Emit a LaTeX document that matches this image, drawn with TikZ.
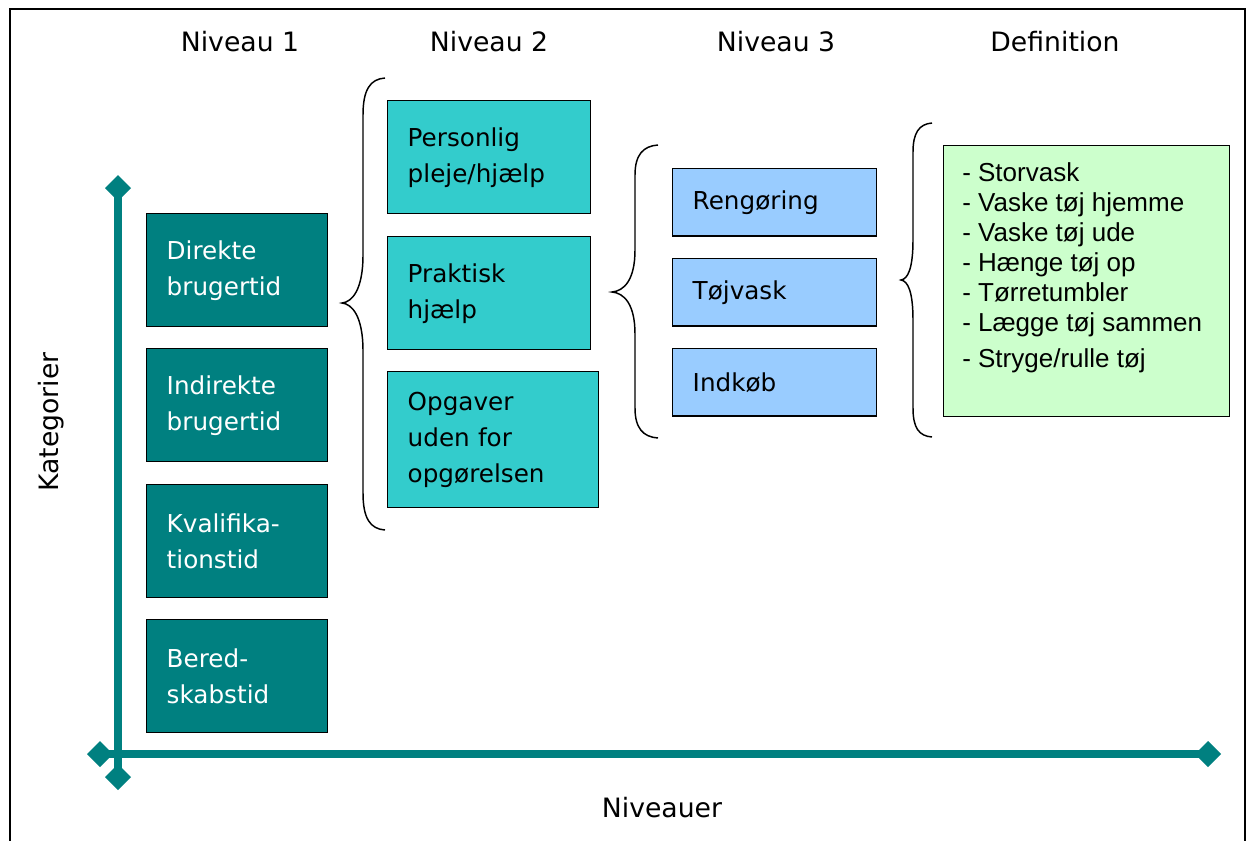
\documentclass[tikz,border=0pt]{standalone}
\usepackage{fontspec}
\setmainfont{DejaVu Sans}
\newfontfamily\deffont{Liberation Sans}
\usetikzlibrary{arrows.meta,positioning}
\definecolor{tealbox}{HTML}{008080}
\definecolor{cyanbox}{HTML}{33CCCC}
\definecolor{bluebox}{HTML}{99CCFF}
\definecolor{greenbox}{HTML}{CCFFCC}

\begin{document}
\begin{tikzpicture}[x=0.75pt,y=-0.75pt,
    box/.style={draw=black,line width=1.1pt,rectangle,anchor=north west,align=left,inner xsep=15pt,
        font=\fontsize{18.5pt}{27pt}\selectfont},
    lvlone/.style={box,fill=tealbox,text=white,text width=105.75pt,minimum height=84.75pt},
    lvltwo/.style={box,fill=cyanbox,text width=122.25pt,minimum height=84.75pt},
    lvlthree/.style={box,fill=bluebox,text width=123pt,minimum height=50.6pt},
    head/.style={anchor=base,font=\fontsize{20pt}{24pt}\selectfont},
    brace/.style={draw=black,line width=1.1pt},
    axis/.style={draw=tealbox,line width=6pt,{Diamond[length=19.5pt,width=19.5pt]}-{Diamond[length=19.5pt,width=19.5pt]}}]

    \useasboundingbox (0,0) rectangle (1246,840);
    \draw[line width=1.9pt] (10,850) -- (10,9) -- (1245,9) -- (1245,850);

    % headings
    \node[head] (niv1) at (240,51) {Niveau 1};
    \node[head] (niv2) at (489,51) {Niveau 2};
    \node[head] (niv3) at (776,51) {Niveau 3};
    \node[head] (defhead) at (1055,51) {Definition};
    \node[head] (niveauer) at (662,817) {Niveauer};
    \node[head,rotate=90] (kategorier) at (58,422) {Kategorier};

    % axes
    \coordinate (ytop) at (118,175);
    \coordinate (ybot) at (118,790);
    \coordinate (xleft) at (87,754);
    \coordinate (xright) at (1221,754);
    \draw[axis] (ybot) -- (ytop);
    \draw[axis] (xleft) -- (xright);

    % niveau 1
    \node[lvlone] (direkte) at (146,213) {Direkte\\brugertid};
    \node[lvlone] (indirekte) at (146,348) {Indirekte\\brugertid};
    \node[lvlone] (kvalifikation) at (146,484) {Kvalifika-\\tionstid};
    \node[lvlone] (beredskab) at (146,619) {Bered-\\skabstid};

    % niveau 2
    \node[lvltwo] (personlig) at (387,100) {Personlig\\pleje/hjælp};
    \node[lvltwo] (praktisk) at (387,236) {Praktisk\\hjælp};
    \node[lvltwo,text width=128.25pt,minimum height=102pt] (opgaver) at (387,371) {Opgaver\\uden for\\opgørelsen};

    % niveau 3
    \node[lvlthree] (rengoring) at (672,168) {Rengøring};
    \node[lvlthree] (tojvask) at (672,258) {Tøjvask};
    \node[lvlthree] (indkob) at (672,348) {Indkøb};

    % definition
    \node[draw=black,line width=1.1pt,fill=greenbox,anchor=north west,minimum width=214.5pt,minimum height=203.25pt] (definition) at (943,145) {};
    \node[below right=12.75pt and 14.25pt of definition.north west,anchor=north west,align=left,inner sep=0pt,
        font=\deffont\fontsize{19.5pt}{22.5pt}\selectfont] (deflist)
        {- Storvask\\- Vaske tøj hjemme\\- Vaske tøj ude\\- Hænge tøj op\\- Tørretumbler\\- Lægge tøj sammen\\[4.5pt]- Stryge/rulle tøj};

    % braces
    \draw[brace] (385,78) .. controls (370,79) and (363,90) .. (363,115) -- (363,255)
        .. controls (363,290) and (352,302) .. (342,303) .. controls (352,304) and (363,316) .. (363,351)
        -- (363,493) .. controls (363,518) and (370,529) .. (385,530);
    \draw[brace] (658,145) .. controls (643,146) and (635,155) .. (635,175) -- (635,250)
        .. controls (635,280) and (624,291) .. (612,292) .. controls (624,293) and (635,304) .. (635,334)
        -- (635,408) .. controls (635,428) and (643,437) .. (658,438);
    \draw[brace] (932,123) .. controls (919,124) and (913,133) .. (913,152) -- (913,240)
        .. controls (913,268) and (908,279) .. (901,280) .. controls (908,281) and (913,292) .. (913,320)
        -- (913,408) .. controls (913,428) and (919,436) .. (932,437);
\end{tikzpicture}
\end{document}
